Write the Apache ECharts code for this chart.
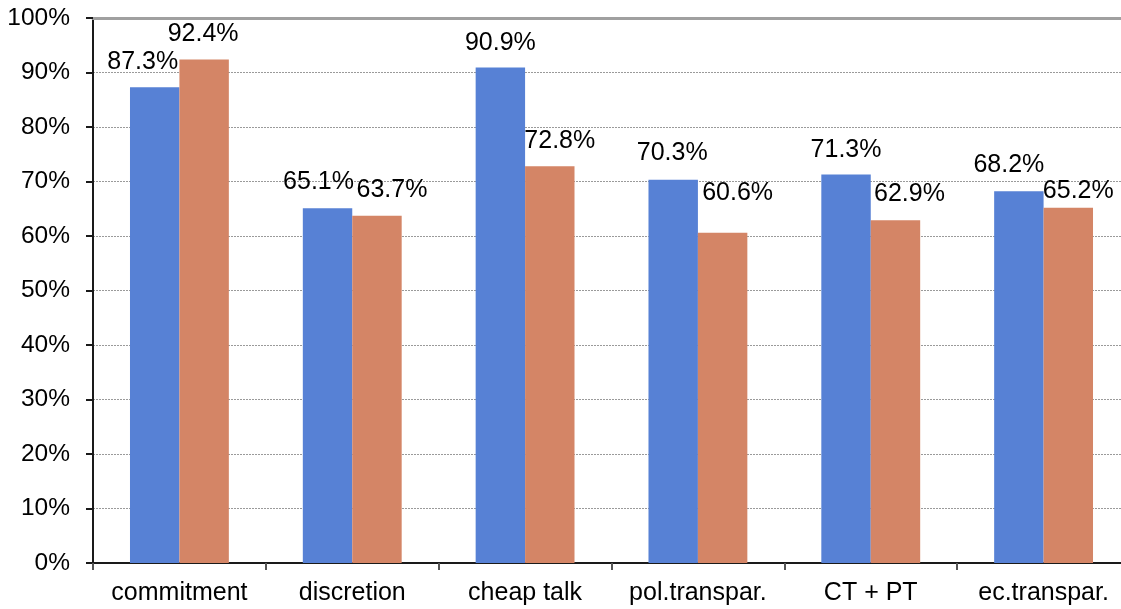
<!DOCTYPE html>
<html>
<head>
<meta charset="utf-8">
<script src="https://cdn.jsdelivr.net/npm/echarts@6/dist/echarts.min.js"></script>
<style>
html,body{margin:0;padding:0;background:#fff;}
#c{width:1121px;height:609px;}
</style>
</head>
<body>
<div id="c"></div>
<script>
const categories = ['commitment', 'discretion', 'cheap talk', 'pol.transpar.', 'CT + PT', 'ec.transpar.'];
const seriesA = [87.3, 65.1, 90.9, 70.3, 71.3, 68.2];
const seriesB = [92.4, 63.7, 72.8, 60.6, 62.9, 65.2];
const yTicks = [0, 10, 20, 30, 40, 50, 60, 70, 80, 90, 100];

// label nudges (style only, not data)
const offA = [[-12, 0], [-9, -1], [0, 1], [-1, -1], [0, 1], [-10, -1]];
const offB = [[-1, 0], [15, 0], [10, 0], [15, -14], [14, -1], [10, 9]];

const font = 'Liberation Sans, Arial, sans-serif';

function mkData(vals, offs) {
  return vals.map((v, i) => ({
    value: v,
    label: { offset: offs[i] }
  }));
}

const chart = echarts.init(document.getElementById('c'));
chart.setOption({
  animation: false,
  backgroundColor: '#ffffff',
  grid: { left: 93, top: 18, width: 1037, height: 545, containLabel: false, outerBoundsMode: 'none' },
  xAxis: [{
    type: 'category',
    data: categories,
    position: 'bottom',
    axisLine: { lineStyle: { color: '#1a1a1a', width: 2 } },
    axisTick: { show: true, length: 7, alignWithLabel: false, lineStyle: { color: '#555', width: 2 } },
    axisLabel: { color: '#000', fontSize: 25, fontFamily: font, margin: 18, interval: 0 }
  }, {
    type: 'category',
    data: categories,
    position: 'top',
    axisLine: { lineStyle: { color: '#a0a0a0', width: 3 } },
    axisTick: { show: false },
    axisLabel: { show: false }
  }],
  yAxis: {
    type: 'value',
    min: yTicks[0],
    max: yTicks[yTicks.length - 1],
    interval: 10,
    axisLine: { show: true, lineStyle: { color: '#1a1a1a', width: 2 } },
    axisTick: { show: true, length: 7, lineStyle: { color: '#1a1a1a', width: 2 } },
    axisLabel: { color: '#000', fontSize: 24.5, fontFamily: font, margin: 23, formatter: '{value}%' },
    splitLine: { show: true, lineStyle: { color: '#9a9a9a', width: 1, type: [2, 1] } }
  },
  series: [{
    type: 'bar',
    data: mkData(seriesA, offA),
    barWidth: '28.6%',
    barGap: '0%',
    itemStyle: { color: '#5781d5' },
    label: {
      show: true, position: 'top', distance: 13,
      color: '#000', fontSize: 25, fontFamily: font, lineHeight: 25,
      formatter: p => p.value.toFixed(1) + '%'
    }
  }, {
    type: 'bar',
    data: mkData(seriesB, offB),
    barWidth: '28.6%',
    barGap: '0%',
    itemStyle: { color: '#d48566' },
    label: {
      show: true, position: 'top', distance: 13,
      color: '#000', fontSize: 25, fontFamily: font, lineHeight: 25,
      formatter: p => p.value.toFixed(1) + '%'
    }
  }]
});
</script>
</body>
</html>
